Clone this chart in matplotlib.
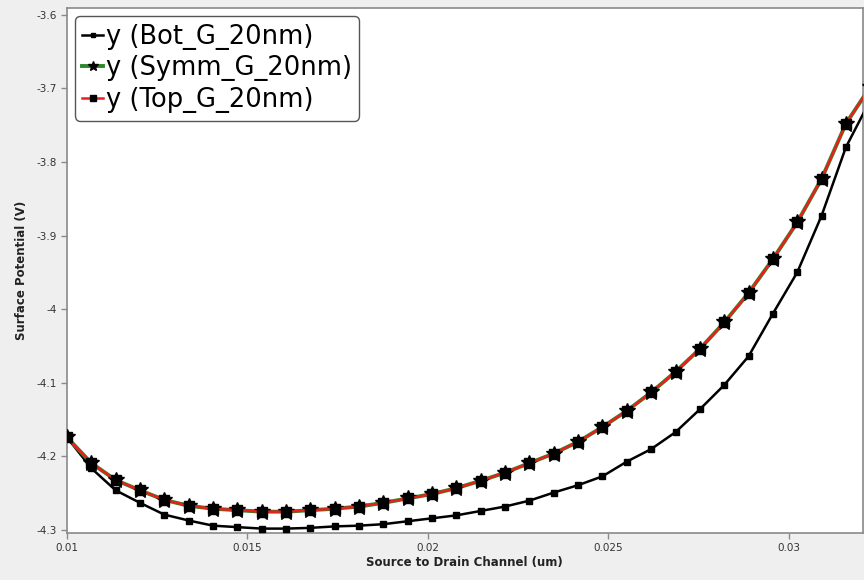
import numpy as np
import matplotlib
matplotlib.use('Agg')
import matplotlib.pyplot as plt

# channel position (um)
x_pos = [0.01, 0.010675, 0.011349, 0.012024, 0.012698, 0.013373, 0.014047,
         0.014722, 0.015396, 0.016071, 0.016745, 0.01742, 0.018094, 0.018769,
         0.019443, 0.020118, 0.020792, 0.021467, 0.022141, 0.022816, 0.02349,
         0.024165, 0.024839, 0.025514, 0.026188, 0.026863, 0.027537, 0.028212,
         0.028886, 0.029561, 0.030235, 0.03091, 0.031584, 0.032259]

# surface potential (V)
bot_g = [-4.174, -4.216, -4.246, -4.263, -4.279, -4.287, -4.294, -4.296,
         -4.298, -4.298, -4.297, -4.295, -4.294, -4.292, -4.288, -4.284,
         -4.280, -4.274, -4.268, -4.260, -4.249, -4.239, -4.227, -4.207,
         -4.190, -4.167, -4.136, -4.103, -4.064, -4.006, -3.950, -3.873,
         -3.780, -3.716]
symm_g = [-4.174, -4.209, -4.232, -4.246, -4.259, -4.267, -4.271, -4.273,
          -4.275, -4.275, -4.273, -4.271, -4.268, -4.263, -4.257, -4.251,
          -4.243, -4.233, -4.222, -4.209, -4.196, -4.180, -4.160, -4.138,
          -4.113, -4.085, -4.054, -4.018, -3.978, -3.932, -3.882, -3.823,
          -3.748, -3.698]
top_g = [-4.174, -4.209, -4.232, -4.246, -4.259, -4.267, -4.271, -4.273,
         -4.275, -4.275, -4.273, -4.271, -4.268, -4.263, -4.257, -4.251,
         -4.243, -4.233, -4.222, -4.209, -4.196, -4.180, -4.160, -4.138,
         -4.113, -4.085, -4.054, -4.018, -3.978, -3.932, -3.882, -3.823,
         -3.748, -3.698]

labels = ['y (Bot_G_20nm)', 'y (Symm_G_20nm)', 'y (Top_G_20nm)']
y_ticks = [-4.3, -4.2, -4.1, -4, -3.9, -3.8, -3.7, -3.6]
x_ticks = [0.01, 0.015, 0.02, 0.025, 0.03]

fig = plt.figure(figsize=(8.64, 5.80), dpi=100, facecolor='#efefef')
ax = fig.add_axes([0.0775, 0.081, 0.921, 0.905])
ax.set_facecolor('white')

ax.plot(x_pos, bot_g, color='black', lw=1.8, marker='s', ms=5,
        mfc='black', mec='black', label=labels[0], zorder=3)
ax.plot(x_pos, symm_g, color='#2a8a2a', lw=2.8, marker='*', ms=12,
        mfc='black', mec='black', label=labels[1], zorder=4)
ax.plot(x_pos, top_g, color='#e8201c', lw=1.8, marker='s', ms=7,
        mfc='black', mec='black', label=labels[2], zorder=5)

ax.set_xlim(0.01, 0.03205)
ax.set_ylim(-4.304, -3.591)
ax.set_xticks(x_ticks)
ax.set_xticklabels(['0.01', '0.015', '0.02', '0.025', '0.03'])
ax.set_yticks(y_ticks)
ax.set_yticklabels(['-4.3', '-4.2', '-4.1', '-4', '-3.9', '-3.8', '-3.7', '-3.6'])

for sp in ax.spines.values():
    sp.set_color('#8a8a8a')
    sp.set_linewidth(1.2)
ax.tick_params(direction='out', length=4, width=1, color='#8a8a8a',
               labelsize=7.5, labelcolor='#333333')

ax.set_xlabel('Source to Drain Channel (um)', fontsize=8.5,
              fontweight='bold', color='#222222', labelpad=2)
ax.set_ylabel('Surface Potential (V)', fontsize=8.5,
              fontweight='bold', color='#222222', labelpad=6)

leg = ax.legend(loc='upper left', fontsize=18.5, handlelength=0.8,
                handletextpad=0.1, borderpad=0.3, labelspacing=0.22,
                borderaxespad=0.3, fancybox=True, framealpha=1,
                edgecolor='#555555', markerscale=0.6)
leg.get_frame().set_linewidth(1.0)

fig.savefig('out.png', dpi=100, facecolor=fig.get_facecolor())
